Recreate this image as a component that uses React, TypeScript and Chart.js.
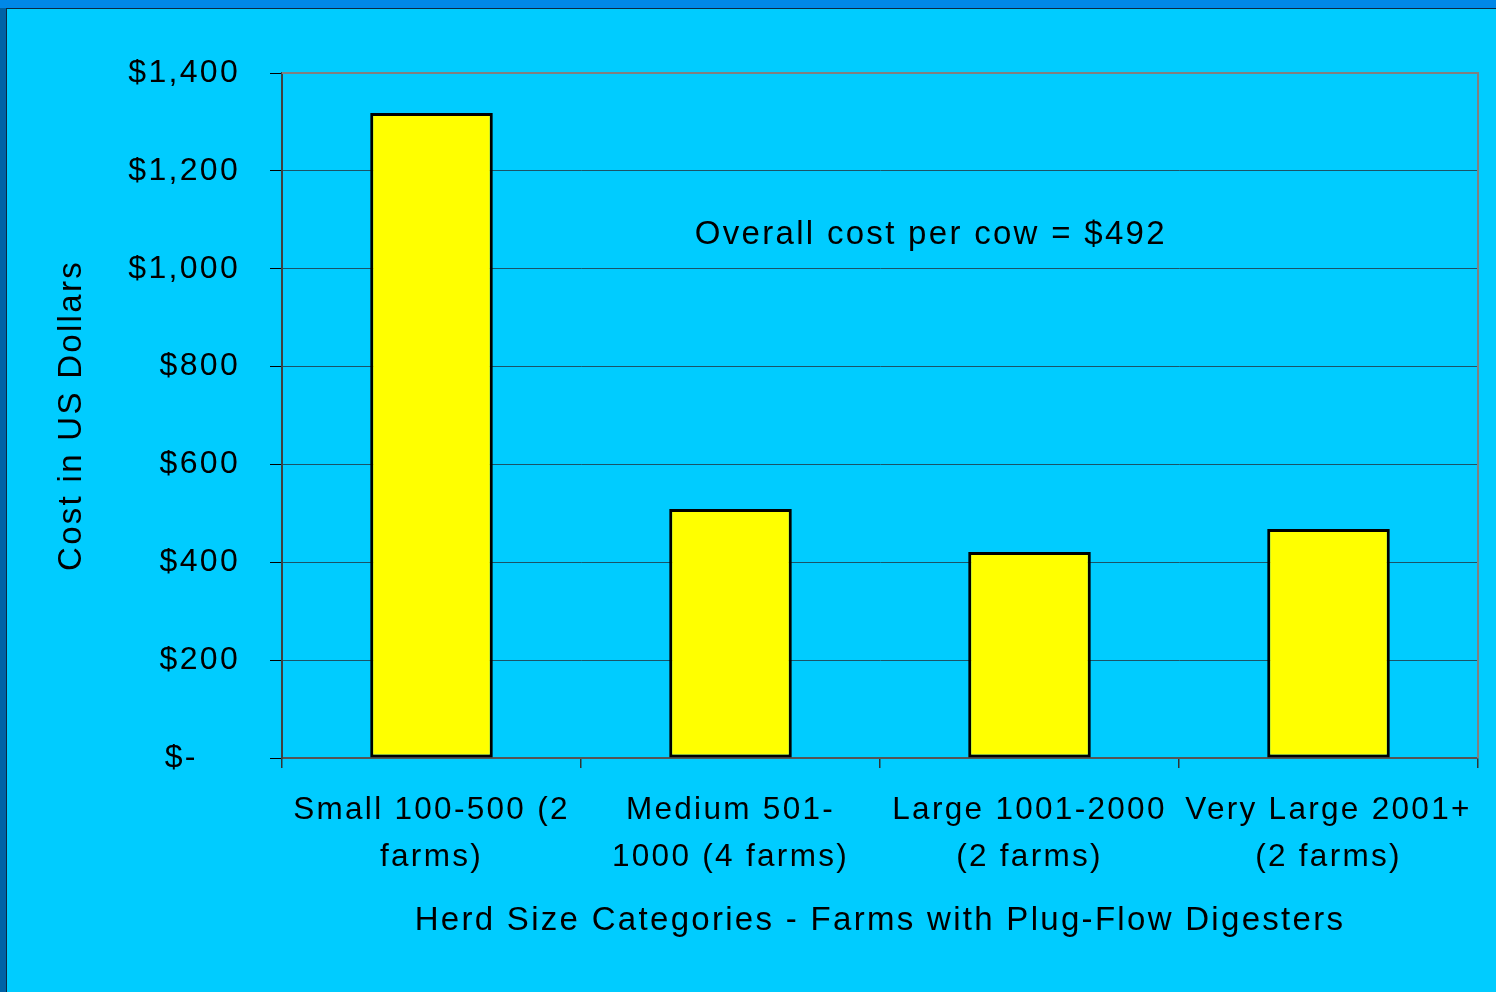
import React, { useEffect, useRef } from "react";
import { Chart, registerables } from "chart.js";

Chart.register(...registerables);

const categories: string[][] = [
  ["Small 100-500 (2", "farms)"],
  ["Medium 501-", "1000 (4 farms)"],
  ["Large 1001-2000", "(2 farms)"],
  ["Very Large 2001+", "(2 farms)"],
];
const costPerCow: number[] = [1318, 509, 421, 468];
const yMin = 0;
const yMax = 1400;
const yStep = 200;
const yAxisTitle = "Cost in US Dollars";
const xAxisTitle = "Herd Size Categories - Farms with Plug-Flow Digesters";
const annotationText = "Overall cost per cow = $492";
const annotationCategoryPos = 1.67;
const annotationValue = 1069;

const FONT = "'Liberation Sans', Arial, Helvetica, sans-serif";
const LETTER_SPACING = "2.3px";

function formatTick(v: number): string {
  if (v === 0) return "$-   \u2009";
  return "$" + v.toLocaleString("en-US");
}

const stylePlugin = {
  id: "slideStyle",
  beforeUpdate(chart: any) {
    chart.ctx.letterSpacing = LETTER_SPACING;
  },
  beforeLayout(chart: any) {
    chart.ctx.letterSpacing = LETTER_SPACING;
  },
  beforeDraw(chart: any) {
    const ctx = chart.ctx as CanvasRenderingContext2D;
    const w = chart.width;
    const h = chart.height;
    ctx.save();
    ctx.fillStyle = "#0088E8";
    ctx.fillRect(0, 0, w, h);
    ctx.fillStyle = "#0062A6";
    ctx.fillRect(0, 8, 6, h - 8);
    ctx.fillStyle = "#0A2A44";
    ctx.fillRect(6, 8, w - 6, 1);
    ctx.fillRect(6, 8, 1, h - 8);
    ctx.fillStyle = "#00CCFF";
    ctx.fillRect(7, 9, w - 7, h - 9);
    ctx.restore();
    (ctx as any).letterSpacing = LETTER_SPACING;
  },
  afterDraw(chart: any) {
    const ctx = chart.ctx as CanvasRenderingContext2D;
    const a = chart.chartArea;
    ctx.save();
    ctx.strokeStyle = "#808080";
    ctx.lineWidth = 2;
    ctx.beginPath();
    ctx.moveTo(a.left, a.top);
    ctx.lineTo(a.right, a.top);
    ctx.lineTo(a.right, a.bottom);
    ctx.stroke();
    (ctx as any).letterSpacing = LETTER_SPACING;
    ctx.font = `33px ${FONT}`;
    ctx.fillStyle = "#000";
    ctx.textAlign = "center";
    ctx.textBaseline = "middle";
    ctx.fillText(
      annotationText,
      chart.scales.x.getPixelForValue(annotationCategoryPos),
      chart.scales.y.getPixelForValue(annotationValue)
    );
    ctx.restore();
  },
};

export default function App() {
  const canvasRef = useRef<HTMLCanvasElement | null>(null);

  useEffect(() => {
    const canvas = canvasRef.current;
    if (!canvas) return;
    const chart = new Chart(canvas, {
      type: "bar",
      data: {
        labels: categories,
        datasets: [
          {
            data: costPerCow,
            backgroundColor: "#FFFF00",
            borderColor: "#000000",
            borderWidth: 3,
            borderSkipped: false,
            barPercentage: 0.41,
            categoryPercentage: 1.0,
          },
        ],
      },
      options: {
        animation: false,
        responsive: false,
        devicePixelRatio: 1,
        layout: { padding: { top: 73, right: 18, bottom: 0, left: 0 } },
        plugins: {
          legend: { display: false },
          tooltip: { enabled: false },
        },
        scales: {
          x: {
            grid: {
              display: true,
              drawOnChartArea: false,
              drawTicks: true,
              tickLength: 10,
              color: "#333333",
              tickColor: "#333333",
              offset: true,
              lineWidth: 1.5,
            },
            border: { display: true, color: "#555555", width: 2 },
            ticks: {
              font: { family: FONT, size: 31.5, lineHeight: 1.49 },
              color: "#000",
              padding: 19,
              maxRotation: 0,
              minRotation: 0,
              autoSkip: false,
            },
            title: {
              display: true,
              text: xAxisTitle,
              font: { family: FONT, size: 33, lineHeight: 1.2 },
              color: "#000",
              padding: { top: 0, bottom: 51 },
            },
            afterFit(scale: any) {
              scale.height = 234;
            },
          },
          y: {
            min: yMin,
            max: yMax,
            grid: {
              color: "#1a5468",
              lineWidth: 1,
              drawTicks: true,
              tickLength: 12,
              tickColor: "#000",
            },
            border: { display: true, color: "#404040", width: 2 },
            ticks: {
              stepSize: yStep,
              font: { family: FONT, size: 32 },
              color: "#000",
              padding: 30,
              callback: (v: any) => formatTick(Number(v)),
            },
            title: {
              display: true,
              text: yAxisTitle,
              font: { family: FONT, size: 33, lineHeight: 1.2 },
              color: "#000",
              padding: { top: 52, bottom: 0 },
            },
            afterFit(scale: any) {
              scale.width = 282;
            },
          },
        },
      } as any,
      plugins: [stylePlugin],
    });
    return () => chart.destroy();
  }, []);

  return (
    <div style={{ position: "absolute", left: 0, top: 0, width: 1496, height: 992 }}>
      <canvas ref={canvasRef} width={1496} height={992} style={{ width: 1496, height: 992, display: "block" }} />
    </div>
  );
}
